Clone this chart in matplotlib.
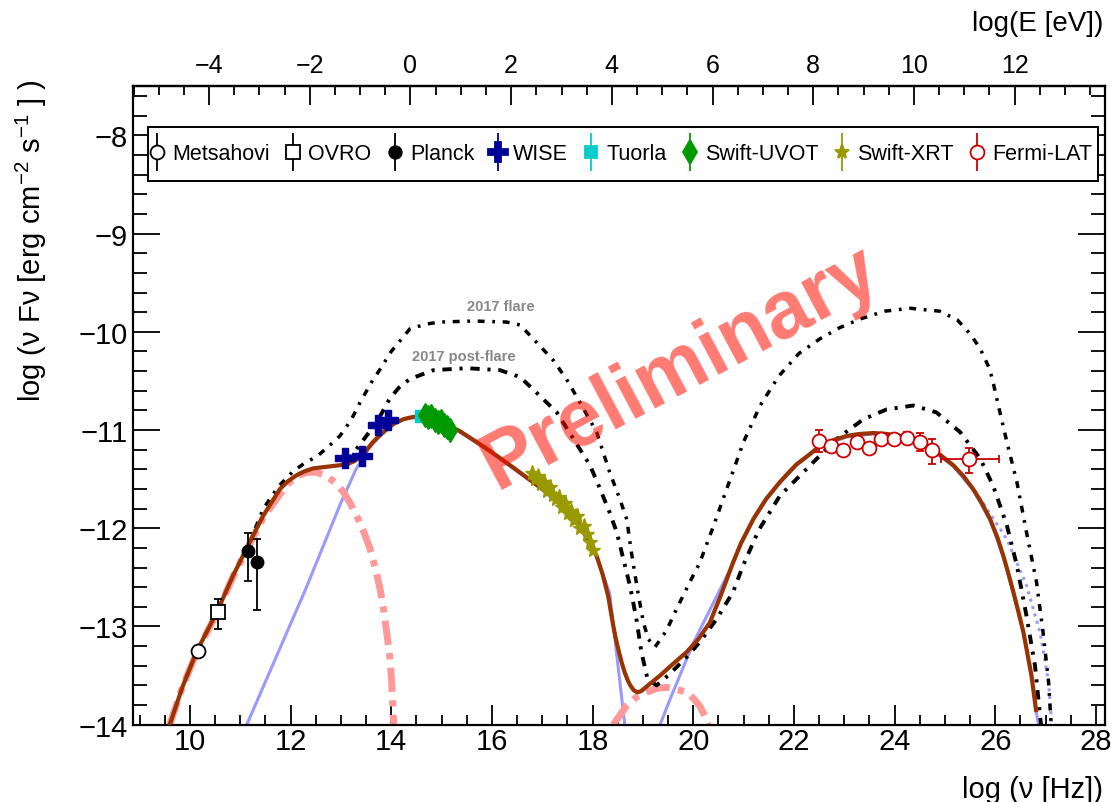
import numpy as np
import matplotlib
matplotlib.use("Agg")
import matplotlib.pyplot as plt
from matplotlib.ticker import MultipleLocator
from matplotlib.legend_handler import HandlerErrorbar
from matplotlib.container import ErrorbarContainer
from matplotlib.lines import Line2D
from matplotlib.collections import LineCollection
from matplotlib.patches import Rectangle

plt.rcParams['font.family'] = ['Liberation Sans', 'DejaVu Sans']
plt.rcParams['mathtext.fontset'] = 'custom'
plt.rcParams['mathtext.rm'] = 'Liberation Sans'
plt.rcParams['mathtext.it'] = 'Liberation Sans:italic'
plt.rcParams['mathtext.bf'] = 'Liberation Sans:bold'

LOG_H_EV = 14.383  # log10(Hz per eV)

# ---------------- data points ----------------
metsahovi_x = [10.17]
metsahovi_y = [-13.25]
metsahovi_err = [0.02]

ovro_x = [10.56]
ovro_y = [-12.85]
ovro_lo = [0.18]
ovro_hi = [0.13]

planck_x = [11.15, 11.34]
planck_y = [-12.23, -12.34]
planck_lo = [0.31, 0.49]
planck_hi = [0.18, 0.23]

wise_x = [13.08, 13.41, 13.74, 13.94]
wise_y = [-11.28, -11.26, -10.95, -10.90]

tuorla_x = [14.60]
tuorla_y = [-10.86]

uvot_x = [14.68, 14.74, 14.80, 14.86, 14.92, 14.98, 15.04, 15.10, 15.16]
uvot_y = [-10.85, -10.87, -10.86, -10.90, -10.92, -10.91, -10.95, -10.97, -11.00]

xrt_x = [16.80, 16.86, 16.92, 16.98, 17.04, 17.10, 17.16, 17.22, 17.28, 17.34, 17.40,
         17.46, 17.52, 17.58, 17.64, 17.70, 17.76, 17.82, 17.88, 17.94, 18.00]
xrt_y = [-11.44, -11.50, -11.47, -11.55, -11.53, -11.62, -11.58, -11.66, -11.70, -11.68, -11.78,
         -11.74, -11.84, -11.82, -11.92, -11.88, -12.00, -11.98, -12.06, -12.14, -12.22]

fermi_x = [22.50, 22.74, 22.98, 23.25, 23.49, 23.73, 23.99, 24.24, 24.50, 24.74, 25.48]
fermi_y = [-11.11, -11.16, -11.20, -11.12, -11.18, -11.09, -11.09, -11.08, -11.12, -11.20, -11.29]
fermi_lo = [0.11, 0.04, 0.04, 0.04, 0.04, 0.04, 0.04, 0.06, 0.09, 0.15, 0.15]
fermi_hi = [0.11, 0.04, 0.04, 0.04, 0.04, 0.04, 0.04, 0.06, 0.09, 0.11, 0.11]
fermi_last_xlo = [0.55]
fermi_last_xhi = [0.60]

# ---------------- model curves ----------------
total_x = [9.60, 9.85, 10.13, 10.53, 10.86, 11.19, 11.46, 11.79, 11.95, 12.12, 12.28, 12.45,
           12.78, 12.95, 13.11, 13.25, 13.38, 13.50, 13.64, 13.78, 13.91, 14.07, 14.24, 14.40,
           14.57, 14.77, 14.97, 15.16, 15.36, 15.90, 16.42, 16.95, 17.22, 17.48, 17.75, 18.08,
           18.20, 18.31, 18.36, 18.41, 18.46, 18.52, 18.58, 18.64, 18.70, 18.75, 18.82, 18.89,
           18.96, 19.10, 19.22, 19.34, 19.60, 19.87, 20.10, 20.33, 20.55, 20.79, 20.95, 21.20,
           21.45, 21.72, 21.90, 22.05, 22.28, 22.52, 22.80, 23.05, 23.30, 23.58, 23.85, 24.11,
           24.40, 24.64, 24.90, 25.17, 25.37, 25.56, 25.74, 25.90, 26.04, 26.16, 26.26, 26.36,
           26.46, 26.56, 26.64, 26.72, 26.81]
total_y = [-14.0, -13.62, -13.26, -12.86, -12.48, -12.14, -11.87, -11.60, -11.52, -11.46, -11.42,
           -11.39, -11.37, -11.36, -11.35, -11.32, -11.28, -11.21, -11.12, -11.05, -10.99, -10.93,
           -10.89, -10.87, -10.86, -10.88, -10.92, -10.96, -11.01, -11.19, -11.38, -11.58, -11.68,
           -11.81, -11.97, -12.28, -12.47, -12.69, -12.84, -12.99, -13.12, -13.25, -13.37, -13.47,
           -13.55, -13.60, -13.65, -13.67, -13.66, -13.60, -13.55, -13.50, -13.38, -13.26, -13.13,
           -12.96, -12.68, -12.35, -12.15, -11.90, -11.70, -11.53, -11.43, -11.35, -11.26, -11.16,
           -11.10, -11.06, -11.04, -11.03, -11.04, -11.06, -11.10, -11.16, -11.25, -11.36, -11.47,
           -11.60, -11.75, -11.91, -12.09, -12.28, -12.46, -12.65, -12.85, -13.06, -13.28, -13.50,
           -13.85]

sync1_x = [9.60, 9.85, 10.13, 10.53, 10.86, 11.19, 11.46, 11.92, 12.12, 12.32, 12.52, 12.72,
           12.90, 13.05, 13.18, 13.31, 13.45, 13.58, 13.68, 13.78, 13.85, 13.91, 13.97, 14.01,
           14.05]
sync1_y = [-14.0, -13.62, -13.27, -12.87, -12.49, -12.16, -11.89, -11.56, -11.47, -11.43, -11.43,
           -11.47, -11.54, -11.63, -11.74, -11.87, -12.03, -12.21, -12.40, -12.62, -12.83, -13.06,
           -13.30, -13.57, -14.0]

ic1_x = [18.41, 18.55, 18.67, 18.87, 19.07, 19.27, 19.47, 19.67, 19.87, 20.00, 20.13, 20.22, 20.30]
ic1_y = [-14.0, -13.90, -13.81, -13.72, -13.67, -13.63, -13.62, -13.64, -13.67, -13.73, -13.81,
         -13.90, -14.0]

sync2_x = [11.13, 12.30, 13.00, 13.30, 13.55, 13.80, 14.05, 14.30, 14.57, 14.97, 15.36, 15.90,
           16.42, 16.95, 17.48, 17.78, 18.08, 18.34, 18.64]
sync2_y = [-14.0, -12.62, -11.74, -11.40, -11.19, -11.05, -10.94, -10.88, -10.87, -10.93, -11.02,
           -11.20, -11.39, -11.59, -11.82, -12.01, -12.29, -12.66, -14.0]

ic2_x = [19.34, 19.54, 20.00, 20.40, 20.79, 20.95, 21.20, 21.45, 21.72, 22.05, 22.52, 23.05,
         23.58, 24.11, 24.64, 25.17, 25.56, 25.90, 26.16, 26.36, 26.56, 26.72, 26.81, 26.86]
ic2_y = [-14.0, -13.74, -13.17, -12.76, -12.36, -12.16, -11.91, -11.71, -11.54, -11.36, -11.17,
         -11.07, -11.04, -11.07, -11.17, -11.37, -11.61, -11.92, -12.29, -12.66, -13.07, -13.51,
         -13.86, -14.0]

ic2_noebl_x = [25.30, 25.56, 25.83, 26.23, 26.62, 26.89, 27.06, 27.12]
ic2_noebl_y = [-11.44, -11.59, -11.80, -12.11, -12.58, -13.06, -13.57, -14.0]

flare_x = [11.30, 11.46, 11.75, 12.05, 12.30, 12.52, 12.75, 12.98, 13.20, 13.38, 13.60, 13.78,
           14.00, 14.37, 14.70, 14.97, 15.63, 16.29, 16.56, 16.82, 17.22, 17.48, 17.75, 18.08,
           18.34, 18.54, 18.68, 18.77, 18.90, 19.01, 19.11, 19.24, 19.47, 19.67, 19.93, 20.13,
           20.40, 20.70, 21.00, 21.33, 21.70, 22.10, 22.52, 22.90, 23.31, 23.80, 24.31, 24.90,
           25.25, 25.50, 25.70, 25.89, 25.96, 26.03, 26.23, 26.43, 26.62, 26.82, 26.95, 27.06,
           27.11]
flare_y = [-12.00, -11.80, -11.58, -11.42, -11.33, -11.27, -11.17, -11.06, -10.90, -10.72, -10.52,
           -10.38, -10.20, -9.97, -9.92, -9.90, -9.89, -9.90, -9.93, -10.07, -10.29, -10.48, -10.72,
           -11.02, -11.43, -11.70, -11.91, -12.24, -12.65, -12.96, -13.13, -13.21, -13.04, -12.82,
           -12.55, -12.35, -11.98, -11.55, -11.12, -10.75, -10.45, -10.22, -10.07, -9.96, -9.87,
           -9.79, -9.76, -9.79, -9.88, -10.02, -10.17, -10.38, -10.52, -10.68, -11.12, -11.53,
           -12.04, -12.55, -13.06, -13.57, -14.0]

post_x = [13.10, 13.30, 13.55, 13.80, 13.97, 14.15, 14.37, 14.84, 15.50, 16.16, 16.56, 16.95,
          17.29, 17.62, 17.95, 18.15, 18.34, 18.48, 18.61, 18.74, 18.87, 18.97, 19.09, 19.27,
          19.54, 19.87, 20.13, 20.47, 20.79, 20.99, 21.30, 21.72, 22.05, 22.38, 22.85, 23.38,
          23.84, 24.37, 24.83, 25.30, 25.70, 25.96, 26.23, 26.43, 26.62, 26.79, 26.89, 26.91]
post_y = [-11.33, -11.20, -11.03, -10.84, -10.68, -10.57, -10.48, -10.39, -10.37, -10.39, -10.46,
          -10.65, -10.82, -11.09, -11.36, -11.60, -11.84, -12.04, -12.31, -12.58, -12.92, -13.26,
          -13.53, -13.60, -13.48, -13.31, -13.16, -12.92, -12.65, -12.38, -12.02, -11.67, -11.50,
          -11.33, -11.09, -10.89, -10.79, -10.75, -10.82, -11.02, -11.29, -11.57, -11.97, -12.38,
          -12.89, -13.40, -13.91, -14.0]

x_major = [10, 12, 14, 16, 18, 20, 22, 24, 26, 28]
y_major = [-14, -13, -12, -11, -10, -9, -8]
e_major = [-4, -2, 0, 2, 4, 6, 8, 10, 12]

# ---------------- figure ----------------
fig = plt.figure(figsize=(11.12, 8.03), dpi=100)
ax = fig.add_axes([0.12005, 0.09626, 0.87365, 0.79502])
ax.set_xlim(8.88, 28.18)
ax.set_ylim(-14, -7.5)

BROWN = '#993300'
PINK = '#FF9999'
LBLUE = '#9999FF'

ax.plot(sync2_x, sync2_y, color=LBLUE, lw=2.2, zorder=2)
ax.plot(ic2_x, ic2_y, color=LBLUE, lw=2.2, zorder=2)
ax.plot(ic2_noebl_x, ic2_noebl_y, color=LBLUE, lw=2.2, ls=(0, (1, 1.5)), zorder=2)
ax.plot(sync1_x, sync1_y, color=PINK, lw=5, ls=(0, (3.5, 1.2, 0.9, 1.2)), zorder=2)
ax.plot(ic1_x, ic1_y, color=PINK, lw=5, ls=(0, (3.5, 1.2, 0.9, 1.2)), zorder=2)
ax.plot(flare_x, flare_y, color='black', lw=2.5, ls=(0, (2, 2.2, 0.8, 2.2)), zorder=3)
ax.plot(post_x, post_y, color='black', lw=2.8, ls=(0, (2.4, 2.0, 0.8, 2.0)), zorder=3)
ax.plot(total_x, total_y, color=BROWN, lw=3, zorder=4)

ekw = dict(elinewidth=1.3, capsize=3, capthick=1.3, ls='none', zorder=6)
ax.errorbar(metsahovi_x, metsahovi_y, yerr=metsahovi_err, fmt='o', ms=10, mfc='white',
            mec='black', mew=1.3, color='black', **ekw)
ax.errorbar(ovro_x, ovro_y, yerr=[ovro_lo, ovro_hi], fmt='s', ms=9.5, mfc='white',
            mec='black', mew=1.3, color='black', **ekw)
ax.errorbar(planck_x, planck_y, yerr=[planck_lo, planck_hi], fmt='o', ms=9,
            color='black', **ekw)
ax.errorbar(wise_x, wise_y, yerr=[[0.01] * 4, [0.01] * 4], fmt='P', ms=14,
            color='#000099', mec='#000099', **ekw)
ax.errorbar(tuorla_x, tuorla_y, yerr=[0.01], fmt='s', ms=8, color='#00CCCC', **ekw)
ax.errorbar(uvot_x, uvot_y, yerr=[0.02] * len(uvot_x), fmt='d', ms=12, color='#009900', **ekw)
ax.errorbar(xrt_x, xrt_y, yerr=[0.04] * len(xrt_x), fmt='*', ms=11, color='#999900',
            elinewidth=1.0, capsize=0, ls='none', zorder=6)
ax.errorbar(fermi_x, fermi_y, yerr=[fermi_lo, fermi_hi], fmt='o', ms=10, mfc='white',
            mec='#CC0000', mew=1.3, color='#CC0000', **ekw)
ax.errorbar(fermi_x[-1:], fermi_y[-1:], xerr=[fermi_last_xlo, fermi_last_xhi], fmt='none',
            ecolor='#CC0000', elinewidth=1.3, capsize=3, capthick=1.3, zorder=5)

# ---------------- axes styling ----------------
for s in ax.spines.values():
    s.set_linewidth(1.6)
ax.set_xticks(x_major)
ax.set_yticks(y_major)
ax.xaxis.set_minor_locator(MultipleLocator(0.5))
ax.yaxis.set_minor_locator(MultipleLocator(0.2))
ax.tick_params(axis='x', which='both', direction='in', bottom=True, top=False, width=1.3,
               labelsize=21, pad=2)
ax.tick_params(axis='x', which='major', length=14.4)
ax.tick_params(axis='x', which='minor', length=7.2)
ax.tick_params(axis='y', which='both', direction='in', left=True, right=True, width=1.3,
               labelsize=21, pad=4)
ax.tick_params(axis='y', which='major', length=19.5)
ax.tick_params(axis='y', which='minor', length=10)

sec = ax.secondary_xaxis('top', functions=(lambda x: x - LOG_H_EV, lambda e: e + LOG_H_EV))
sec.set_xticks(e_major)
sec.xaxis.set_minor_locator(MultipleLocator(0.5))
sec.tick_params(axis='x', which='both', direction='in', width=1.3, labelsize=18, pad=7)
sec.tick_params(axis='x', which='major', length=13.7)
sec.tick_params(axis='x', which='minor', length=6.5)
sec.spines['top'].set_linewidth(1.6)

fig.text(1103 / 1112, 1 - 790 / 803, 'log (ν [Hz])', ha='right', va='center', fontsize=21)
fig.text(1103 / 1112, 1 - 24 / 803, 'log(E [eV])', ha='right', va='center', fontsize=20)
fig.text(31 / 1112, 1 - 80 / 803, 'log (ν Fν [erg cm$^{-2}$ s$^{-1}$ ] )', rotation=90,
         ha='center', va='top', fontsize=21)

# annotations
ax.text(16.18, -9.74, '2017 flare', color='#888888', fontsize=10.5, fontweight='bold',
        ha='center', va='center', zorder=7)
ax.text(15.45, -10.25, '2017 post-flare', color='#888888', fontsize=10.5, fontweight='bold',
        ha='center', va='center', zorder=7)
ax.text(19.74, -10.36, 'Preliminary', color=(1.0, 0.05, 0.0), alpha=0.55, fontsize=58,
        fontweight='bold', rotation=28, rotation_mode='anchor', ha='center', va='center',
        zorder=10)


# legend (proxy handles: marker + vertical bar, no caps)
def proxy(label, marker, ms, color, mfc=None, mec=None):
    ln = Line2D([], [], marker=marker, ms=ms, color=color, ls='none',
                mfc=mfc if mfc else color, mec=mec if mec else color, mew=1.3)
    bars = LineCollection([], colors=[color], linewidths=1.3)
    return ErrorbarContainer((ln, (), (bars,)), has_xerr=False, has_yerr=True, label=label)


handles = [
    proxy('Metsahovi', 'o', 10, 'black', mfc='white'),
    proxy('OVRO', 's', 9.5, 'black', mfc='white'),
    proxy('Planck', 'o', 9, 'black'),
    proxy('WISE', 'P', 14, '#000099'),
    proxy('Tuorla', 's', 8, '#00CCCC'),
    proxy('Swift-UVOT', 'd', 12, '#009900'),
    proxy('Swift-XRT', '*', 11, '#999900'),
    proxy('Fermi-LAT', 'o', 10, '#CC0000', mfc='white'),
]

frame = Rectangle((0.01493, 0.8517), 0.97787, 0.08459, transform=ax.transAxes,
                  facecolor='white', edgecolor='black', lw=1.4, zorder=7)
ax.add_patch(frame)
leg = ax.legend(handles=handles, loc='center', ncol=8, mode='expand',
                bbox_to_anchor=(0.0186, 0.8517, 0.968, 0.08459), fontsize=15.5,
                frameon=False, handlelength=0.5, handletextpad=0.45, columnspacing=1.0,
                borderpad=0, borderaxespad=0,
                handler_map={ErrorbarContainer: HandlerErrorbar(xerr_size=0.3, yerr_size=0.9)})
leg.set_zorder(8)

fig.savefig('out.png', dpi=100)
